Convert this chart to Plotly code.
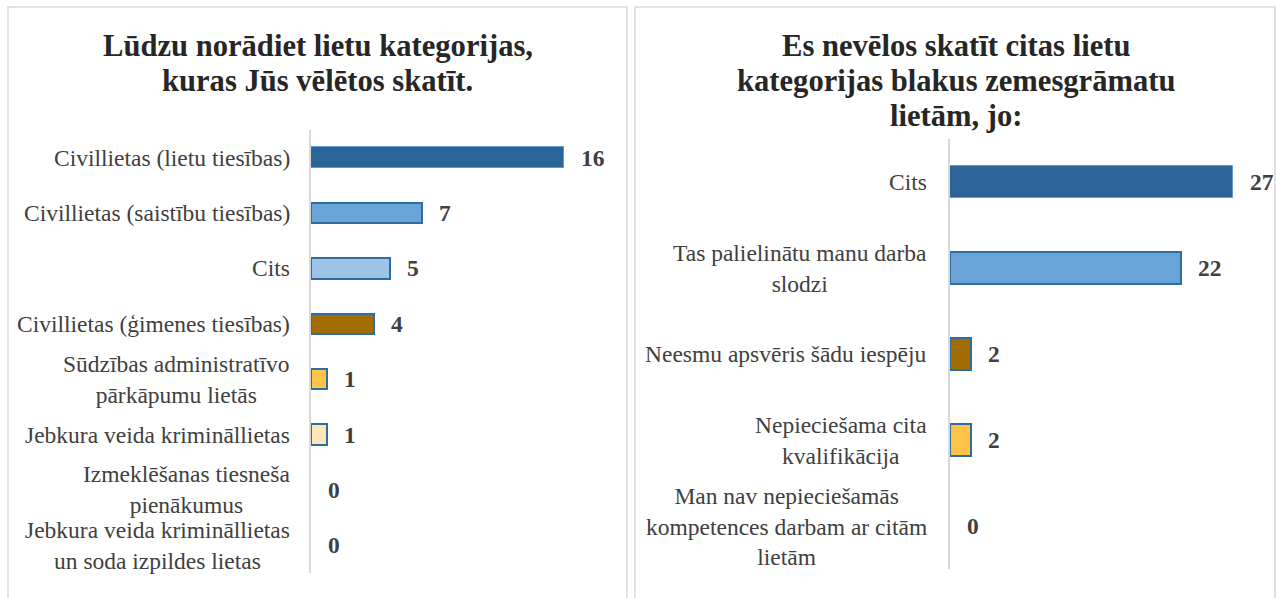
import plotly.graph_objects as go

W, H = 1276, 598

# Left chart: preferred case categories
left_title = ["Lūdzu norādiet lietu kategorijas,", "kuras Jūs vēlētos skatīt."]
left_cats = [
    "Civillietas (lietu tiesības)",
    "Civillietas (saistību tiesības)",
    "Cits",
    "Civillietas (ģimenes tiesības)",
    "Sūdzības administratīvo<br>pārkāpumu lietās",
    "Jebkura veida krimināllietas",
    "Izmeklēšanas tiesneša<br>pienākumus",
    "Jebkura veida krimināllietas<br>un soda izpildes lietas",
]
left_vals = [16, 7, 5, 4, 1, 1, 0, 0]

# Right chart: reasons for not wanting other categories
right_title = ["Es nevēlos skatīt citas lietu", "kategorijas blakus zemesgrāmatu", "lietām, jo:"]
right_cats = [
    "Cits",
    "Tas palielinātu manu darba<br>slodzi",
    "Neesmu apsvēris šādu iespēju",
    "Nepieciešama cita<br>kvalifikācija",
    "Man nav nepieciešamās<br>kompetences darbam ar citām<br>lietām",
]
right_vals = [27, 22, 2, 2, 0]

DARK = "#2C6497"
MID = "#6AA4D6"
LIGHT = "#9DC3E6"
BROWN = "#A36C00"
GOLD = "#FFC447"
CREAM = "#FFE6B6"
OUTLINE = "#2E6DA4"

left_colors = [DARK, MID, LIGHT, BROWN, GOLD, CREAM, CREAM, CREAM]
right_colors = [DARK, MID, BROWN, GOLD, CREAM]

SERIF = "Liberation Serif"
TXT = "#404040"


def px(x):
    return x / W


def py(y):
    return 1 - y / H


def line_widths(vals):
    # thin light edge on the first bar, darker edge on the rest, none on empty bars
    return [0 if v == 0 else (1 if i == 0 else 2) for i, v in enumerate(vals)]


def line_colors(vals):
    return ["#5B9BD5" if i == 0 else OUTLINE for i in range(len(vals))]


fig = go.Figure()

fig.add_trace(go.Bar(
    x=left_vals, y=left_cats, orientation="h", xaxis="x", yaxis="y",
    marker=dict(color=left_colors, line=dict(color=line_colors(left_vals),
                                             width=line_widths(left_vals))),
    width=0.37, hoverinfo="skip", showlegend=False,
))
fig.add_trace(go.Bar(
    x=right_vals, y=right_cats, orientation="h", xaxis="x2", yaxis="y2",
    marker=dict(color=right_colors, line=dict(color=line_colors(right_vals),
                                              width=line_widths(right_vals))),
    width=0.37, hoverinfo="skip", showlegend=False,
))

annotations = []

# Category labels (centered multi-line blocks, right-aligned to the axis)
for c in left_cats:
    annotations.append(dict(
        x=px(292), xref="paper", y=c, yref="y", text=c, showarrow=False,
        xanchor="right", yanchor="middle", align="center",
        font=dict(family=SERIF, size=23.5, color=TXT),
    ))
for c in right_cats:
    annotations.append(dict(
        x=px(929), xref="paper", y=c, yref="y2", text=c, showarrow=False,
        xanchor="right", yanchor="middle", align="center",
        font=dict(family=SERIF, size=23.5, color=TXT),
    ))

# Value labels beside the bars
for c, v in zip(left_cats, left_vals):
    annotations.append(dict(
        x=v, xref="x", y=c, yref="y", text=f"<b>{v}</b>", showarrow=False,
        xanchor="left", yanchor="middle", xshift=15,
        font=dict(family=SERIF, size=23.5, color=TXT),
    ))
for c, v in zip(right_cats, right_vals):
    annotations.append(dict(
        x=v, xref="x2", y=c, yref="y2", text=f"<b>{v}</b>", showarrow=False,
        xanchor="left", yanchor="middle", xshift=15,
        font=dict(family=SERIF, size=23.5, color=TXT),
    ))

# Titles, one annotation per line
for i, t in enumerate(left_title):
    annotations.append(dict(
        x=px(317.5), xref="paper", y=py(46 + 35 * i), yref="paper",
        text=f"<b>{t}</b>", showarrow=False, xanchor="center", yanchor="middle",
        font=dict(family=SERIF, size=30.6, color="#262626"),
    ))
for i, t in enumerate(right_title):
    annotations.append(dict(
        x=px(956), xref="paper", y=py(46 + 35 * i), yref="paper",
        text=f"<b>{t}</b>", showarrow=False, xanchor="center", yanchor="middle",
        font=dict(family=SERIF, size=30.6, color="#262626"),
    ))

# Panel frames
shapes = [
    dict(type="rect", xref="paper", yref="paper", x0=px(8), x1=px(627),
         y0=py(610), y1=py(7), line=dict(color="#D9D9D9", width=1.5),
         fillcolor="rgba(0,0,0,0)", layer="below"),
    dict(type="rect", xref="paper", yref="paper", x0=px(635), x1=px(1275),
         y0=py(610), y1=py(7), line=dict(color="#D9D9D9", width=1.5),
         fillcolor="rgba(0,0,0,0)", layer="below"),
]

fig.update_layout(
    width=W, height=H,
    margin=dict(l=0, r=0, t=0, b=0),
    paper_bgcolor="white", plot_bgcolor="white",
    bargap=0,
    font=dict(family=SERIF),
    xaxis=dict(domain=[px(311), px(311 + 15.8 * 18)], range=[0, 18],
               visible=False, fixedrange=True),
    yaxis=dict(domain=[py(573), py(130)], type="category",
               categoryorder="array", categoryarray=left_cats,
               range=[len(left_cats) - 0.5, -0.5],
               showticklabels=False, showgrid=False, zeroline=False,
               showline=True, linecolor="#D9D9D9", linewidth=2, ticks=""),
    xaxis2=dict(domain=[px(950), px(950 + 10.48 * 30)], range=[0, 30],
                visible=False, fixedrange=True, anchor="y2"),
    yaxis2=dict(domain=[py(569), py(139)], type="category", anchor="x2",
                categoryorder="array", categoryarray=right_cats,
                range=[len(right_cats) - 0.5, -0.5],
                showticklabels=False, showgrid=False, zeroline=False,
                showline=True, linecolor="#D9D9D9", linewidth=2, ticks=""),
    annotations=annotations,
    shapes=shapes,
)

fig.write_html("out.html", config={"displayModeBar": False})
